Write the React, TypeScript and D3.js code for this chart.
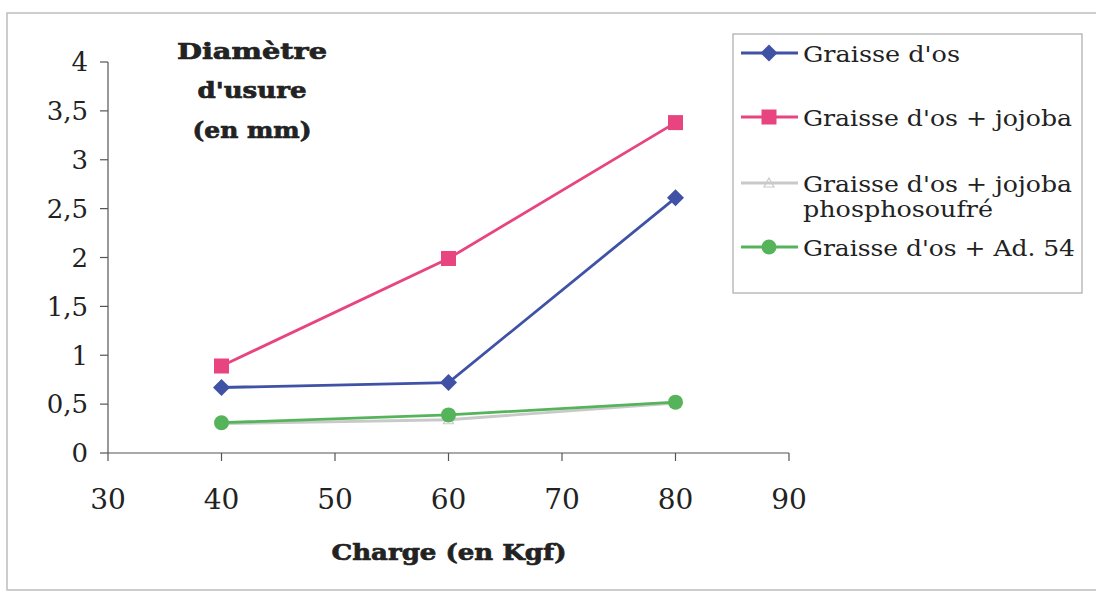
import React from "react";
import * as d3 from "d3";

const charges = [40, 60, 80];
const graisseOs = [0.67, 0.72, 2.61];
const graisseJojoba = [0.89, 1.99, 3.38];
const graissePhospho = [0.3, 0.34, 0.51];
const graisseAd54 = [0.31, 0.39, 0.52];
const xTicks = [30, 40, 50, 60, 70, 80, 90];
const yTicks = [0, 0.5, 1, 1.5, 2, 2.5, 3, 3.5, 4];
const seriesNames = [
  ["Graisse d'os"],
  ["Graisse d'os + jojoba"],
  ["Graisse d'os + jojoba", "phosphosoufré"],
  ["Graisse d'os + Ad. 54"],
];
const seriesColors = ["#3f52a6", "#e8447f", "#c9c9c9", "#55b45a"];
const seriesMarkers = ["diamond", "square", "triangle", "circle"];
const allSeries = [graisseOs, graisseJojoba, graissePhospho, graisseAd54];
const yTitleLines = ["Diamètre", "d'usure", "(en mm)"];
const xTitle = "Charge (en Kgf)";

const W = 1096;
const H = 596;
const serif = "'DejaVu Serif', 'Liberation Serif', serif";

function Marker({ type, x, y, color }: { type: string; x: number; y: number; color: string }) {
  if (type === "diamond") {
    const s = 8.5;
    return <path d={`M${x},${y - s}L${x + s},${y}L${x},${y + s}L${x - s},${y}Z`} fill={color} />;
  }
  if (type === "square") {
    return <rect x={x - 7.5} y={y - 7.5} width={15} height={15} fill={color} />;
  }
  if (type === "triangle") {
    return <path d={`M${x},${y - 5}L${x + 5},${y + 4}L${x - 5},${y + 4}Z`} fill="none" stroke={color} strokeWidth={1.2} />;
  }
  return <circle cx={x} cy={y} r={7.5} fill={color} />;
}

export default function App() {
  const x = d3.scaleLinear().domain([30, 90]).range([108, 789]);
  const y = d3.scaleLinear().domain([0, 4]).range([453, 62]);
  const line = d3
    .line<[number, number]>()
    .x((d) => x(d[0]))
    .y((d) => y(d[1]));

  const legendRows = [53, 117, 183, 247];
  const legendWidths = [[157], [269], [269, 190], [272]];
  const yTitleBase = [59, 98, 138];
  const yTitleWidths = [150, 109, 119];
  const fmt = (v: number) => String(v).replace(".", ",");

  return (
    <svg
      width={W}
      height={H}
      style={{ position: "absolute", left: 0, top: 0, background: "#fff" }}
    >
      <rect x={7} y={13} width={1100} height={577} fill="none" stroke="#bdbdbd" strokeWidth={1.5} />

      {/* axes */}
      <line x1={x(30)} x2={x(30)} y1={y(4)} y2={y(0)} stroke="#555" strokeWidth={1.2} />
      <line x1={x(30)} x2={x(90)} y1={y(0)} y2={y(0)} stroke="#555" strokeWidth={1.2} />
      {yTicks.map((t) => (
        <g key={"y" + t}>
          <line x1={x(30) - 8} x2={x(30)} y1={y(t)} y2={y(t)} stroke="#555" strokeWidth={1.2} />
          <text
            x={x(30) - 20}
            y={y(t)}
            dy="0.36em"
            textAnchor="end"
            fontFamily={serif}
            fontSize={26}
            fill="#222"
          >
            {fmt(t)}
          </text>
        </g>
      ))}
      {xTicks.map((t) => (
        <g key={"x" + t}>
          <line x1={x(t)} x2={x(t)} y1={y(0)} y2={y(0) + 8} stroke="#555" strokeWidth={1.2} />
          <text
            x={x(t)}
            y={509}
            textAnchor="middle"
            fontFamily={serif}
            fontSize={28}
            fill="#222"
          >
            {t}
          </text>
        </g>
      ))}

      {/* titles */}
      <text
        x={449}
        y={560}
        textAnchor="middle"
        fontFamily={serif}
        fontWeight="bold"
        fontSize={23}
        fill="#222"
        stroke="#222"
        strokeWidth={0.7}
        textLength={235}
        lengthAdjust="spacingAndGlyphs"
      >
        {xTitle}
      </text>
      <g fontFamily={serif} fontWeight="bold" fontSize={23} fill="#222" stroke="#222" strokeWidth={0.7} textAnchor="middle">
        {yTitleLines.map((t, i) => (
          <text key={t} x={252} y={yTitleBase[i]} textLength={yTitleWidths[i]} lengthAdjust="spacingAndGlyphs">
            {t}
          </text>
        ))}
      </g>

      {/* series */}
      {allSeries.map((vals, i) => {
        const pts = charges.map((c, j) => [c, vals[j]] as [number, number]);
        return (
          <g key={"s" + i}>
            <path d={line(pts) || ""} fill="none" stroke={seriesColors[i]} strokeWidth={2.8} />
            {pts.map((p, j) => (
              <Marker key={j} type={seriesMarkers[i]} x={x(p[0])} y={y(p[1])} color={seriesColors[i]} />
            ))}
          </g>
        );
      })}

      {/* legend */}
      <rect x={733} y={34} width={349} height={259} fill="#fff" stroke="#aaa" strokeWidth={1.2} />
      {seriesNames.map((name, i) => (
        <g key={"l" + i}>
          <line x1={741} x2={798} y1={legendRows[i]} y2={legendRows[i]} stroke={seriesColors[i]} strokeWidth={2.8} />
          <Marker type={seriesMarkers[i]} x={769} y={legendRows[i]} color={seriesColors[i]} />
          {name.map((t, k) => (
            <text
              key={k}
              x={803}
              y={legendRows[i] + 9 + k * 25}
              fontFamily={serif}
              fontSize={23}
              fill="#222"
              textLength={legendWidths[i][k]}
              lengthAdjust="spacingAndGlyphs"
            >
              {t}
            </text>
          ))}
        </g>
      ))}
    </svg>
  );
}
